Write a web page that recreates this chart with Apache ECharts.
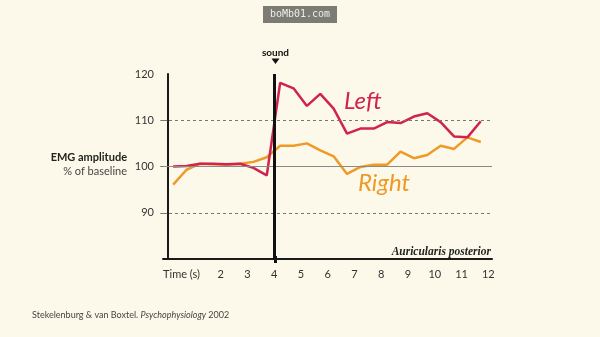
<!DOCTYPE html>
<html>
<head>
<meta charset="utf-8">
<script src="https://cdn.jsdelivr.net/npm/echarts@6/dist/echarts.min.js"></script>
<style>
html,body{margin:0;padding:0;background:#fdf9ea;}
#c{width:600px;height:337px;}
</style>
</head>
<body>
<div id="c"></div>
<script>
// time points (s)
var times = [0.22,0.72,1.22,1.72,2.22,2.72,3.22,3.72,4.22,4.72,5.22,5.72,6.22,6.72,7.22,7.72,8.22,8.72,9.22,9.72,10.22,10.72,11.22,11.72];
var leftValues = [100.0,100.1,100.6,100.6,100.5,100.6,99.7,98.1,118.1,116.9,113.1,115.7,112.5,107.1,108.2,108.2,109.6,109.4,110.8,111.5,109.6,106.5,106.3,109.8];
var rightValues = [96.1,99.3,100.6,100.5,100.4,100.6,101.0,102.0,104.5,104.5,105.0,103.5,102.2,98.4,99.9,100.4,100.4,103.2,101.8,102.5,104.5,103.8,106.3,105.3];
var xTickValues = [1,2,3,4,5,6,7,8,9,10,11,12];
var xTickLabels = ['Time (s)','2','3','4','5','6','7','8','9','10','11','12'];
var yTickValues = [90,100,110,120];
var soundTime = 4;

function pairs(xs, ys){ return xs.map(function(x,i){ return [x, ys[i]]; }); }

var chart = echarts.init(document.getElementById('c'), null, {renderer:'canvas'});
var font = 'Lato, "Open Sans", sans-serif';
chart.setOption({
  backgroundColor:'#fdf9ea',
  animation:false,
  grid:{left:163, right:108, top:74, bottom:78},
  xAxis:{
    type:'value', min:-0.16, max:12.14,
    axisLine:{show:true, lineStyle:{color:'#1a1a1a', width:2}},
    axisTick:{show:false},
    splitLine:{show:false},
    axisLabel:{
      customValues:xTickValues, margin:10, color:'#333', fontSize:11, fontFamily:font,
      formatter:function(v){
        var i = xTickValues.indexOf(v);
        if(i===0) return '{t|'+xTickLabels[i]+'}';
        return i>=0 ? xTickLabels[i] : '';
      },
      rich:{t:{padding:[0,25,0,0], color:'#333', fontSize:11, fontFamily:font}}
    }
  },
  yAxis:{
    type:'value', min:80, max:120, interval:10,
    axisLine:{show:true, lineStyle:{color:'#1a1a1a', width:2}},
    axisTick:{show:true, customValues:[90,100,110], length:7, lineStyle:{color:'#777', width:1}},
    splitLine:{show:false},
    axisLabel:{customValues:yTickValues, margin:9, color:'#333', fontSize:11, fontFamily:font}
  },
  series:[
    {
      type:'line', data:pairs(times, rightValues), symbol:'none',
      lineStyle:{color:'#ef9a26', width:2.5}, z:3,
      markLine:{
        silent:true, symbol:'none', label:{show:false},
        data:[
          {yAxis:110, lineStyle:{color:'#777', type:[3,3], width:1}},
          {yAxis:90, lineStyle:{color:'#777', type:[3,3], width:1}},
          {yAxis:100, lineStyle:{color:'#8a8a8a', type:'solid', width:1.2}}
        ]
      }
    },
    {
      type:'line', data:pairs(times, leftValues), symbol:'none',
      lineStyle:{color:'#d0234f', width:2.5}, z:4,
      markLine:{
        silent:true, symbol:'none', label:{show:false}, z:10,
        data:[{xAxis:soundTime, lineStyle:{color:'#111', type:'solid', width:3}}]
      }
    }
  ],
  graphic:[
    {type:'rect', shape:{x:263, y:6, width:74, height:17}, style:{fill:'#7c7b74'}},
    {type:'text', x:300, y:14.5, style:{text:'boMb01.com', fill:'#eeeeea', font:'10px "DejaVu Sans Mono", monospace', align:'center', verticalAlign:'middle'}},
    {type:'text', x:275.5, y:53, style:{text:'sound', fill:'#111', font:'bold 10px '+font, align:'center', verticalAlign:'middle'}},
    {type:'polygon', shape:{points:[[271.5,58.5],[279.5,58.5],[275.5,64]]}, style:{fill:'#111'}},
    {type:'rect', shape:{x:274, y:256, width:3, height:7}, style:{fill:'#111'}},
    {type:'text', x:127, y:157.5, style:{text:'EMG amplitude', fill:'#222', font:'bold 11px '+font, align:'right', verticalAlign:'middle'}},
    {type:'text', x:127, y:171.5, style:{text:'% of baseline', fill:'#444', font:'11px '+font, align:'right', verticalAlign:'middle'}},
    {type:'text', x:344, y:101, style:{text:'Left', fill:'#d0234f', font:'italic 24px '+font, align:'left', verticalAlign:'middle'}},
    {type:'text', x:358, y:183, style:{text:'Right', fill:'#ef9a26', font:'italic 24px '+font, align:'left', verticalAlign:'middle'}},
    {type:'text', x:491, y:252, style:{text:'Auricularis posterior', fill:'#222', font:'italic bold 11.5px "Liberation Serif", "DejaVu Serif", serif', align:'right', verticalAlign:'middle'}},
    {type:'text', x:32, y:315, style:{
      text:'{a|Stekelenburg & van Boxtel. }{b|Psychophysiology}{a| 2002}',
      rich:{a:{fill:'#444', font:'9px '+font}, b:{fill:'#444', font:'italic 9px '+font}},
      verticalAlign:'middle'}}
  ]
});
</script>
</body>
</html>
